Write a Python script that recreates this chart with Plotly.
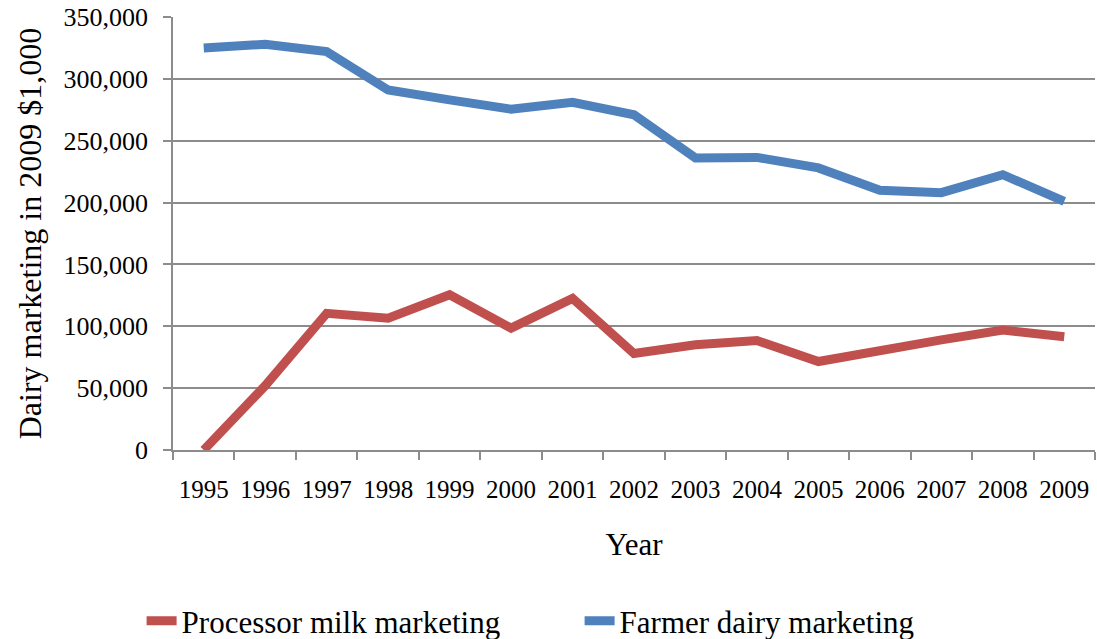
import plotly.graph_objects as go

years = [str(y) for y in range(1995, 2010)]
processor = [0, 52000, 110500, 106500, 125500, 98500, 122500, 78000, 85000, 88500, 71500, 81000, 89000, 97000, 91500]
farmer = [325000, 328000, 322000, 291000, 283000, 275500, 281000, 271000, 236000, 236500, 228000, 210000, 208000, 222500, 201000]

font_family = "Liberation Serif, Times New Roman, serif"
grid_col = "#8c8c8c"

fig = go.Figure()
fig.add_trace(go.Scatter(x=years, y=processor, mode="lines", name="Processor milk marketing",
                         line=dict(color="#C0504D", width=9)))
fig.add_trace(go.Scatter(x=years, y=farmer, mode="lines", name="Farmer dairy marketing",
                         line=dict(color="#4F81BD", width=9)))

fig.update_layout(
    width=1097, height=639,
    margin=dict(l=173, r=2, t=17, b=189, autoexpand=False),
    paper_bgcolor="white", plot_bgcolor="white",
    font=dict(family=font_family, color="black", size=26),
    showlegend=True,
    legend=dict(orientation="h", x=0.441, xanchor="center", y=-0.395, yanchor="middle",
                font=dict(size=31, family=font_family), entrywidth=393, entrywidthmode="pixels"),
    xaxis=dict(type="category", range=[-0.5, 14.5], showgrid=False,
               showline=True, linecolor=grid_col, linewidth=1.5,
               ticks="outside", tickson="boundaries", ticklen=8, tickcolor=grid_col, tickwidth=1.5,
               ticklabelstandoff=16, tickangle=0,
               tickfont=dict(size=25), title=dict(text="Year", font=dict(size=31), standoff=32)),
    yaxis=dict(range=[0, 350000], dtick=50000, tickformat=",", showgrid=True,
               gridcolor=grid_col, gridwidth=1.5, zeroline=False,
               showline=True, linecolor=grid_col, linewidth=1.5,
               ticks="outside", ticklen=8, tickcolor=grid_col, tickwidth=1.5,
               ticklabelstandoff=10,
               tickfont=dict(size=26),
               title=dict(text="Dairy marketing in 2009 $1,000", font=dict(size=32), standoff=12)),
)

fig.write_html("out.html")
